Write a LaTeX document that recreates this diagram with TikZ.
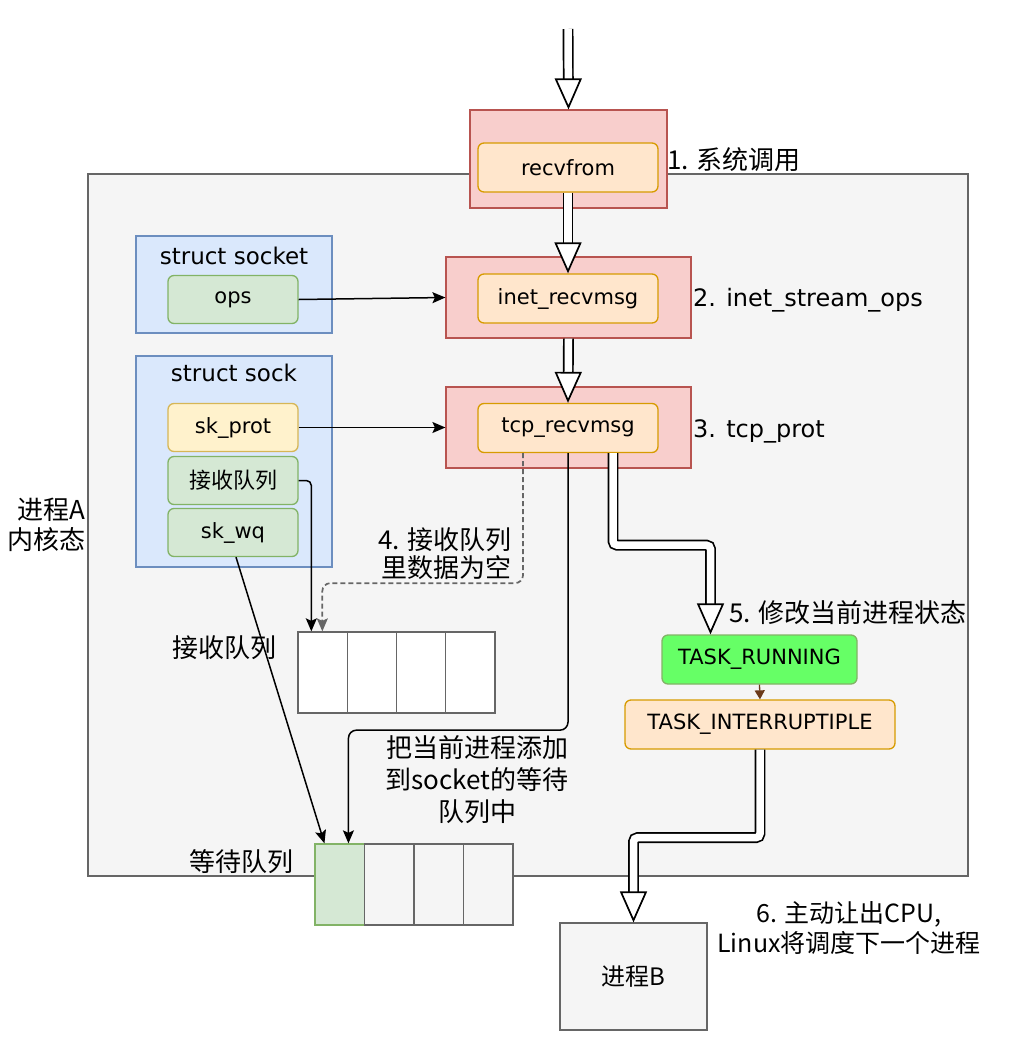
\documentclass[tikz,border=0pt]{standalone}
\usepackage{fontspec}
\setmainfont{DejaVu Sans}
\newfontfamily\cjk{Noto Sans CJK SC}
\usepackage{tikz}
\usetikzlibrary{arrows.meta,positioning,calc}
\definecolor{sysred}{HTML}{F8CECC}
\definecolor{sysredline}{HTML}{B85450}
\definecolor{fnorange}{HTML}{FFE6CC}
\definecolor{fnorangeline}{HTML}{D79B00}
\definecolor{structblue}{HTML}{DAE8FC}
\definecolor{structblueline}{HTML}{6C8EBF}
\definecolor{fieldgreen}{HTML}{D5E8D4}
\definecolor{fieldgreenline}{HTML}{82B366}
\definecolor{fieldyellow}{HTML}{FFF2CC}
\definecolor{fieldyellowline}{HTML}{D6B656}
\definecolor{kernelgray}{HTML}{F5F5F5}
\definecolor{kernelgrayline}{HTML}{666666}
\definecolor{runninggreen}{HTML}{66FF66}
\definecolor{runninggreenline}{HTML}{82B366}
\definecolor{statebrown}{HTML}{6B3A1A}

\begin{document}
\begin{tikzpicture}[x=1pt,y=-1pt,
    outerbox/.style={draw=sysredline, fill=sysred, line width=1.2pt, minimum width=245pt, minimum height=81pt, inner sep=0pt},
    fnbox/.style={draw=fnorangeline, fill=fnorange, line width=1.3pt, rounded corners=6pt, minimum width=180pt, minimum height=49pt, inner sep=0pt, font=\fontsize{21}{25}\selectfont},
    structbox/.style={draw=structblueline, fill=structblue, line width=1.2pt, minimum width=196pt, inner sep=0pt},
    fieldbox/.style={draw=#1line, fill=#1, line width=1.3pt, rounded corners=6pt, minimum width=130pt, minimum height=48pt, inner sep=0pt, font=\fontsize{21}{25}\selectfont},
    cell/.style={draw=kernelgrayline, fill=#1, line width=1.3pt, minimum width=49.3pt, minimum height=81pt, inner sep=0pt},
    cell/.default=white,
    title/.style={font=\fontsize{23}{27}\selectfont},
    stepnote/.style={font=\fontsize{24}{30}\selectfont, inner sep=0pt},
    cjknote/.style={font=\cjk\fontsize{26}{30}\selectfont, inner sep=0pt, align=center},
    blockarrow/.style={double=white, double distance=7.5pt, line width=1.7pt, rounded corners=4pt,
      -{Triangle[fill=white, length=31pt, width=27pt, line width=1.7pt]}},
    link/.style={line width=1.5pt, rounded corners=8pt, -{Stealth[length=13pt, width=11pt, inset=2.5pt]}}
  ]
  \useasboundingbox (0,0) rectangle (1018,1050);
  \fill[white] (0,0) rectangle (1018,1050);

  % kernel of process A
  \node[draw=kernelgrayline, fill=kernelgray, line width=1.2pt, minimum width=880pt, minimum height=702pt, inner sep=0pt]
    (kernel) at (528,525) {};
  \node[cjknote, anchor=east, align=right] (kernellabel) at (86,525) {进程A\\内核态};

  % call chain
  \node[outerbox, minimum width=197pt, minimum height=98pt] (recvOuter) at (568.5,159) {};
  \node[fnbox] (recvfrom) at (568,167.5) {recvfrom};
  \node[cjknote, anchor=west] (step1) at (667,160) {1. 系统调用};

  \node[outerbox] (inetOuter) at (568.5,297.5) {};
  \node[fnbox] (inetIn) at (568,298.5) {inet\_recvmsg};
  \node[stepnote, anchor=west] (step2) at (693,300) {2. inet\_stream\_ops};

  \node[outerbox] (tcpOuter) at (568.5,427.5) {};
  \node[fnbox] (tcpIn) at (568,428) {tcp\_recvmsg};
  \node[stepnote, anchor=west] (step3) at (693,431) {3. tcp\_prot};

  % socket structures
  \node[structbox, minimum height=97pt] (socketBox) at (234,284.5) {};
  \node[title] (socketTitle) at (234,256) {struct socket};
  \node[fieldbox=fieldgreen] (ops) at (233,299.5) {ops};

  \node[structbox, minimum height=211pt] (sockBox) at (234,461.5) {};
  \node[title] (sockTitle) at (234,373) {struct sock};
  \node[fieldbox=fieldyellow] (skprot) at (233,427.5) {sk\_prot};
  \node[fieldbox=fieldgreen, font=\cjk\fontsize{22}{26}\selectfont] (rxfield) at (233,480.5) {接收队列};
  \node[fieldbox=fieldgreen] (skwq) at (233,532.5) {sk\_wq};

  % receive queue
  \foreach \i in {1,...,4}
    \node[cell] (rxq\i) at ({298+49.25*(\i-0.5)},672.5) {};
  \node[cjknote] (rxlabel) at (224,648) {接收队列};
  \node[cjknote, anchor=east, align=right, font=\cjk\fontsize{26}{28}\selectfont] (step4) at (512,554) {4. 接收队列\\里数据为空};

  % wait queue
  \node[cell=fieldgreen, draw=fieldgreenline] (wq1) at (339.75,884.5) {};
  \foreach \i in {2,3,4}
    \node[cell=kernelgray] (wq\i) at ({315+49.5*(\i-0.5)},884.5) {};
  \node[cjknote] (wqlabel) at (241,862) {等待队列};
  \node[cjknote, font=\cjk\fontsize{26}{32}\selectfont] (addnote) at (477,780) {把当前进程添加\\到socket的等待\\队列中};

  % task state
  \node[fieldbox=runninggreen, fill=runninggreen, minimum width=195pt, minimum height=49pt] (running) at (759.5,659.5) {TASK\_RUNNING};
  \node[fnbox, minimum width=270pt] (interrupt) at (760,724.5) {TASK\_INTERRUPTIPLE};
  \node[cjknote, anchor=west] (step5) at (729,613) {5. 修改当前进程状态};

  \node[draw=kernelgrayline, fill=kernelgray, line width=1.2pt, minimum width=147pt, minimum height=107pt, font=\cjk\fontsize{24}{28}\selectfont]
    (procB) at (633.5,976.5) {进程B};
  \node[cjknote, font=\cjk\fontsize{25}{29}\selectfont] (step6) at (849,928) {6. 主动让出CPU,\\Linux将调度下一个进程};

  % block arrows
  \coordinate (entry) at (568,29);
  \draw[blockarrow] (entry) -- (recvOuter.north);
  \draw[blockarrow] (recvfrom.south) -- (inetIn.north);
  \draw[blockarrow] (inetOuter.south) -- (tcpIn.north);
  \draw[blockarrow] ([xshift=45pt]tcpIn.south) -- ++(0,92) -| ([xshift=-49pt]running.north);
  \draw[blockarrow] (interrupt.south) -- ++(0,88) -| (procB.north);

  % pointers
  \draw[link] (ops.east) -- (inetOuter.west);
  \draw[link] (skprot.east) -- (tcpOuter.west);
  \draw[link, rounded corners=5pt] (rxfield.east) -| ([xshift=14pt]rxq1.north west);
  \draw[link, kernelgrayline, dash pattern=on 5pt off 3pt, line width=1.7pt]
    ([xshift=-45pt]tcpIn.south) -- ++(0,130) -| ([xshift=25pt]rxq1.north west);
  \draw[link] (tcpIn.south) -- ++(0,277) -| ([xshift=34pt]wq1.north west);
  \draw[link] ([xshift=3pt]skwq.south) -- ([xshift=10pt]wq1.north west);
  \draw[statebrown, line width=1.3pt, -{Triangle[length=9pt, width=10pt]}] (running.south) -- (interrupt.north);
\end{tikzpicture}
\end{document}
